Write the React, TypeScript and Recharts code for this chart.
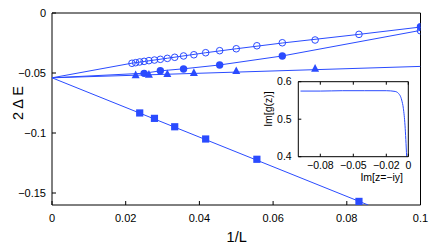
import { ComposedChart, LineChart, Line, Scatter, XAxis, YAxis } from "recharts"

const BLUE = "#2a4bff"
const FONT = "'Liberation Sans', Arial, Helvetica, sans-serif"

// main plot axes
const xTicks = [0, 0.02, 0.04, 0.06, 0.08, 0.1]
const yTicks = [0, -0.05, -0.1, -0.15]

// open circles
const openX = [0.0217, 0.0227, 0.0238, 0.025, 0.0263, 0.0278, 0.0294, 0.0313, 0.0333, 0.0357, 0.0385, 0.0417, 0.0455, 0.05, 0.0556, 0.0625, 0.0714, 0.0833, 0.1]
const openY = [-0.0419, -0.0414, -0.0408, -0.0403, -0.0397, -0.0392, -0.0386, -0.0378, -0.0369, -0.0358, -0.0348, -0.0331, -0.0314, -0.0298, -0.0273, -0.0248, -0.0225, -0.0178, -0.0148]
// filled circles
const fillX = [0.025, 0.0294, 0.0357, 0.0455, 0.0625, 0.1]
const fillY = [-0.0503, -0.0481, -0.0467, -0.0433, -0.0358, -0.0114]
// triangles
const triX = [0.0227, 0.0263, 0.0313, 0.0385, 0.05, 0.0714]
const triY = [-0.0515, -0.0511, -0.0506, -0.0496, -0.0481, -0.0461]
// squares
const sqX = [0.0238, 0.0278, 0.0333, 0.0417, 0.0556, 0.0833]
const sqY = [-0.0833, -0.0878, -0.0948, -0.105, -0.1219, -0.157]

// extrapolation curves
const fitOpenX = [0, 0.0217, 0.0313, 0.0417, 0.05, 0.0625, 0.0833, 0.1]
const fitOpenY = [-0.054, -0.0418, -0.0377, -0.0331, -0.0298, -0.025, -0.0178, -0.0117]
const fitFillX = [0, 0.025, 0.0294, 0.0357, 0.0455, 0.0625, 0.1]
const fitFillY = [-0.054, -0.0502, -0.0482, -0.0465, -0.0433, -0.0358, -0.0145]
const fitTriX = [0, 0.1]
const fitTriY = [-0.054, -0.0445]
const fitSqX = [0, 0.0858]
const fitSqY = [-0.054, -0.16]

// inset: Im[g(z)] vs Im[z=-iy]
const insetXTicks = [-0.08, -0.05, -0.02, 0]
const insetYTicks = [0.4, 0.5, 0.6]
const gX = [-0.098, -0.08, -0.06, -0.04, -0.02, -0.012, -0.009, -0.006, -0.0045, -0.003, -0.0015]
const gY = [0.575, 0.575, 0.576, 0.576, 0.576, 0.574, 0.569, 0.551, 0.529, 0.484, 0.4]

const pts = (xs: number[], ys: number[]) => xs.map((x, i) => ({ x, y: ys[i] }))

const fmt = (v: number) => (v < 0 ? "\u2212" + String(-v) : String(v))

function AxisTick(props: any) {
  const { x, y, payload, side, len = 4, label = true, gap = 6, fs = 11 } = props
  let x2 = x, y2 = y, tx = x, ty = y, anchor = "middle"
  if (side === "bottom") { y2 = y - len; ty = y + gap }
  if (side === "top") { y2 = y + len }
  if (side === "left") { x2 = x + len; tx = x - gap; ty = y + fs * 0.36; anchor = "end" }
  if (side === "right") { x2 = x - len }
  return (
    <g>
      <line x1={x} y1={y} x2={x2} y2={y2} stroke="#000" strokeWidth={1} />
      {label && (
        <text x={tx} y={ty} textAnchor={anchor} fontSize={fs} fontFamily={FONT} fill="#000">
          {fmt(payload.value)}
        </text>
      )}
    </g>
  )
}

const OpenCircle = (p: any) => <circle cx={p.cx} cy={p.cy} r={3.3} fill="none" stroke={BLUE} strokeWidth={1} />
const FilledCircle = (p: any) => <circle cx={p.cx} cy={p.cy} r={3.7} fill={BLUE} />
const Triangle = (p: any) => (
  <polygon points={`${p.cx},${p.cy - 4.3} ${p.cx - 4},${p.cy + 3.4} ${p.cx + 4},${p.cy + 3.4}`} fill={BLUE} />
)
const Square = (p: any) => <rect x={p.cx - 3.6} y={p.cy - 3.6} width={7.2} height={7.2} fill={BLUE} />
const NoDot = () => <g />

const axisLine = { stroke: "#000", strokeWidth: 1 }

export default function App() {
  return (
    <div style={{ position: "absolute", left: 0, top: 0, width: 436, height: 245, background: "#fff", fontFamily: FONT }}>
      <ComposedChart width={436} height={245} margin={{ top: 13, right: 15.5, bottom: 0, left: 0 }}>
        <XAxis type="number" dataKey="x" domain={[0, 0.1]} ticks={xTicks} interval={0} height={40}
          tickSize={0} tickMargin={0} axisLine={axisLine} tick={<AxisTick side="bottom" gap={17} />} allowDataOverflow />
        <XAxis xAxisId="t" orientation="top" mirror type="number" dataKey="x" domain={[0, 0.1]} ticks={xTicks} interval={0}
          tickSize={0} tickMargin={0} axisLine={axisLine} tick={<AxisTick side="top" label={false} />} />
        <YAxis type="number" dataKey="y" domain={[-0.16, 0]} ticks={yTicks} interval={0} width={52}
          tickSize={0} tickMargin={0} axisLine={axisLine} tick={<AxisTick side="left" gap={6} />} allowDataOverflow />
        <YAxis yAxisId="r" orientation="right" mirror type="number" dataKey="y" domain={[-0.16, 0]} ticks={yTicks} interval={0}
          tickSize={0} tickMargin={0} axisLine={axisLine} tick={<AxisTick side="right" label={false} />} />

        <Scatter data={pts(fitOpenX, fitOpenY)} line={{ stroke: BLUE, strokeWidth: 1 }} lineType="joint" shape={NoDot} isAnimationActive={false} />
        <Scatter data={pts(fitFillX, fitFillY)} line={{ stroke: BLUE, strokeWidth: 1 }} lineType="joint" shape={NoDot} isAnimationActive={false} />
        <Scatter data={pts(fitTriX, fitTriY)} line={{ stroke: BLUE, strokeWidth: 1 }} lineType="joint" shape={NoDot} isAnimationActive={false} />
        <Scatter data={pts(fitSqX, fitSqY)} line={{ stroke: BLUE, strokeWidth: 1 }} lineType="joint" shape={NoDot} isAnimationActive={false} />

        <Scatter data={pts(openX, openY)} shape={OpenCircle} isAnimationActive={false} />
        <Scatter data={pts(fillX, fillY)} shape={FilledCircle} isAnimationActive={false} />
        <Scatter data={pts(triX, triY)} shape={Triangle} isAnimationActive={false} />
        <Scatter data={pts(sqX, sqY)} shape={Square} isAnimationActive={false} />
      </ComposedChart>

      <div style={{ position: "absolute", left: 17.5, top: 103, transform: "translate(-50%, -50%) rotate(-90deg)", whiteSpace: "nowrap", fontSize: 14.5, lineHeight: 1 }}>
        2 Δ E
      </div>
      <div style={{ position: "absolute", left: 236.7, top: 236.7, transform: "translate(-50%, -50%)", whiteSpace: "nowrap", fontSize: 14.5, lineHeight: 1 }}>
        1/L
      </div>

      <div style={{ position: "absolute", left: 250, top: 70 }}>
        <LineChart width={170} height={120} data={pts(gX, gY)} margin={{ top: 11.7, right: 11.7, bottom: 0, left: 0 }}>
          <XAxis type="number" dataKey="x" domain={[-0.1, 0]} ticks={insetXTicks} interval={0} height={33.3}
            tickSize={0} tickMargin={0} axisLine={axisLine} tick={<AxisTick side="bottom" gap={12.3} len={3} fs={10.5} />} allowDataOverflow />
          <XAxis xAxisId="t" orientation="top" mirror type="number" dataKey="x" domain={[-0.1, 0]} ticks={insetXTicks} interval={0}
            tickSize={0} tickMargin={0} axisLine={axisLine} tick={<AxisTick side="top" label={false} len={3} />} />
          <YAxis type="number" domain={[0.4, 0.6]} ticks={insetYTicks} interval={0} width={48.3}
            tickSize={0} tickMargin={0} axisLine={axisLine} tick={<AxisTick side="left" gap={6.6} len={3} fs={10.5} />} allowDataOverflow />
          <YAxis yAxisId="r" orientation="right" mirror type="number" domain={[0.4, 0.6]} ticks={insetYTicks} interval={0}
            tickSize={0} tickMargin={0} axisLine={axisLine} tick={<AxisTick side="right" label={false} len={3} />} />
          <Line type="monotone" dataKey="y" stroke={BLUE} strokeWidth={1} dot={false} isAnimationActive={false} />
        </LineChart>
      </div>
      <div style={{ position: "absolute", left: 268, top: 109, transform: "translate(-50%, -50%) rotate(-90deg)", whiteSpace: "nowrap", fontSize: 10.5, lineHeight: 1 }}>
        Im[g(z)]
      </div>
      <div style={{ position: "absolute", left: 381.7, top: 176.5, transform: "translate(-50%, -50%)", whiteSpace: "nowrap", fontSize: 10.5, lineHeight: 1 }}>
        Im[z=−iy]
      </div>
    </div>
  )
}
